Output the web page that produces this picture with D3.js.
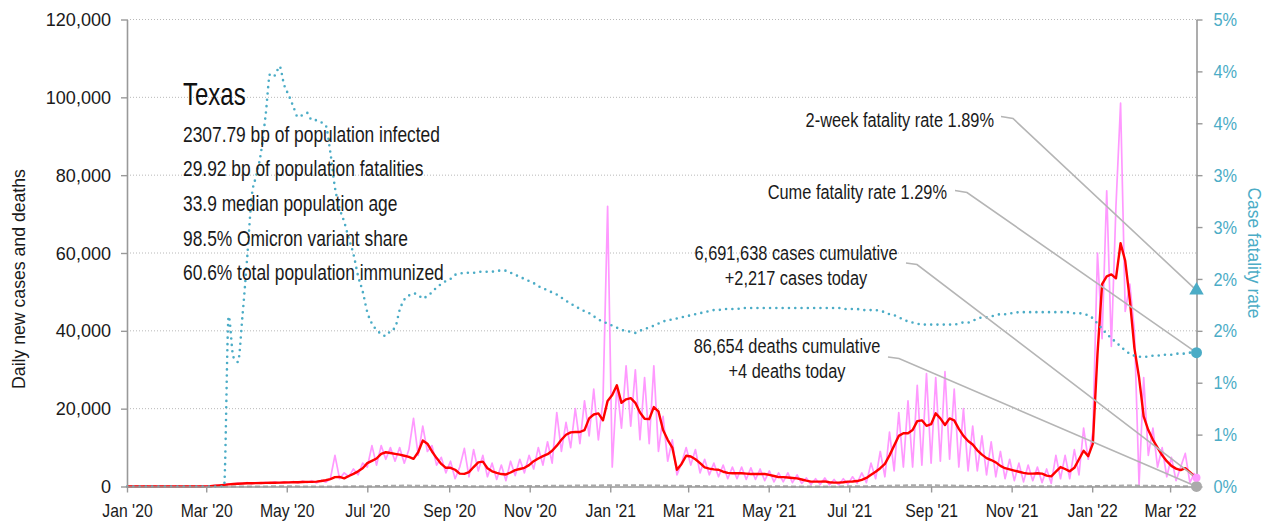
<!DOCTYPE html>
<html><head><meta charset="utf-8">
<script src="https://cdn.jsdelivr.net/npm/d3@7"></script>
<style>
body{margin:0;background:#fff;}
svg text{font-family:"Liberation Sans",Arial,sans-serif;}
</style></head><body>
<svg id="chart" width="1270" height="527"></svg>
<script>
// ---------- data ----------
const startDate = "2020-01-01";
const endDate = "2022-03-21";
const stepDays = 3.5;          // sampling step of the half-weekly series
const deathStepDays = 7;       // sampling step of the weekly deaths series

const casesDaily = [
0,0,0,0,0,0,0,0,0,0,
0,0,0,0,0,0,10,30,120,250,
350,500,700,600,900,700,1000,750,1000,800,
1100,800,1200,850,1200,900,1300,900,1400,1000,
1500,900,1600,1100,2000,8000,2000,3500,2500,4500,
3000,6000,5000,10500,5500,10500,7000,10000,6500,10000,
6000,9500,17500,8000,15500,9000,10500,5500,7500,3500,
6500,2000,5000,9800,2500,9500,4000,8000,2500,6000,
1800,5500,1500,6500,2800,7000,3500,8000,4500,10000,
5500,11500,6000,19000,9000,16500,10000,20000,11000,22000,
13000,25000,12000,22000,72000,5000,26000,15000,31000,15500,
30000,12000,28000,11000,31000,9000,18000,6500,12000,3000,
6000,10000,5500,9500,3500,7000,3000,6000,2500,5500,
2000,5000,2000,5000,1800,4800,1800,4500,1500,4000,
1200,3500,1200,3500,1000,3000,800,2200,500,2000,
500,2200,400,1800,400,2000,600,2500,800,3500,
1000,6000,2000,9000,2500,14000,4000,19000,5000,22000,
5000,26000,5500,29000,6000,28000,6500,29500,7000,25000,
5000,20000,4000,15500,4000,13000,3000,11500,2500,9000,
2000,7000,1500,6000,1200,5500,1500,5000,1000,4500,
800,8000,2000,8000,2000,9500,3000,15000,7000,14000,
60000,38000,76000,36000,72000,98500,45000,52000,40000,500,
28000,8000,15000,5000,10000,2500,7500,1500,5000,8500,
1000,3500
];

// 7-day average of new cases (same sampling)
const casesAvg = [
0,0,0,0,0,0,0,0,0,0,
0,0,0,0,0,0,5,20,80,180,
300,420,550,650,720,780,820,850,880,900,
920,950,980,1000,1020,1050,1080,1100,1150,1180,
1200,1250,1400,1600,1900,2400,2450,2100,2700,3250,
3900,4700,6000,6600,7200,8400,8800,8600,8400,8200,
7900,7600,7100,8800,11800,11000,9000,7300,5800,4800,
4800,4300,3300,3250,3700,5000,6200,6400,4700,3900,
3500,3200,3100,3600,4200,4500,4800,5500,6500,7200,
7800,8300,9200,10500,12000,13300,13900,14000,14000,14500,
17500,18500,18800,17000,22000,23500,26000,21500,22400,22700,
21500,19000,17400,17300,20400,19300,14500,12000,10000,4300,
5800,7900,7700,7000,6000,4900,4600,4400,4300,3800,
3500,3400,3450,3400,3300,3200,3250,3200,3200,3000,
2700,2400,2400,2300,2200,2100,1800,1500,1250,1250,
1250,1300,1100,1000,1000,1100,1250,1300,1400,1700,
2200,3000,3800,4700,5800,8000,10500,13000,13700,13700,
14500,16800,17000,15600,16000,18800,17500,15800,17500,17000,
14800,13000,11700,10800,9300,8200,7300,6800,6200,5300,
4700,4400,4100,3800,3500,3300,3300,3400,3300,2800,
2600,3800,5000,4500,3900,4800,7000,9200,7800,11000,
34000,52000,54000,54500,53500,62500,58000,48000,35500,28000,
18000,14500,12000,10000,8000,6500,5300,4600,4200,4700,
3700,2600
];

// case fatality rate in percent (same sampling)
const cfrPct = [
0,0,0,0,0,0,0,0,0,0,
0,0,0,0,0,0,0,0,0,0,
0,0,1.64,1.25,1.2,1.65,2.2,2.8,3.0,3.22,
3.58,3.98,3.96,4.05,3.87,3.77,3.66,3.56,3.58,3.6,
3.53,3.53,3.51,3.48,3.22,2.88,2.68,2.55,2.39,2.24,
2.03,1.88,1.68,1.57,1.51,1.47,1.45,1.5,1.53,1.7,
1.8,1.84,1.86,1.85,1.81,1.84,1.87,1.92,1.95,1.98,
2.0,2.04,2.05,2.06,2.06,2.06,2.07,2.07,2.07,2.07,
2.08,2.08,2.08,2.06,2.04,2.02,2.0,1.98,1.96,1.93,
1.91,1.89,1.87,1.85,1.82,1.79,1.76,1.74,1.71,1.69,
1.67,1.64,1.61,1.59,1.57,1.55,1.53,1.51,1.5,1.49,
1.48,1.5,1.52,1.53,1.55,1.57,1.59,1.6,1.61,1.62,
1.63,1.64,1.65,1.66,1.67,1.68,1.69,1.7,1.7,1.71,
1.71,1.71,1.71,1.72,1.72,1.72,1.72,1.72,1.72,1.72,
1.72,1.72,1.72,1.72,1.72,1.72,1.72,1.72,1.72,1.72,
1.72,1.72,1.72,1.72,1.72,1.71,1.71,1.71,1.71,1.7,
1.7,1.7,1.7,1.69,1.68,1.66,1.65,1.63,1.61,1.59,
1.58,1.57,1.56,1.56,1.56,1.56,1.56,1.56,1.56,1.56,
1.57,1.58,1.58,1.6,1.61,1.63,1.63,1.64,1.65,1.66,
1.66,1.67,1.67,1.68,1.68,1.68,1.68,1.68,1.68,1.68,
1.68,1.68,1.68,1.68,1.68,1.67,1.67,1.66,1.65,1.62,
1.57,1.52,1.47,1.43,1.39,1.35,1.31,1.28,1.26,1.25,
1.25,1.25,1.26,1.26,1.27,1.27,1.27,1.28,1.28,1.28,
1.29,1.29
];

// 7-day average of new deaths (weekly)
const deathsAvg = [
0,0,0,0,0,0,0,0,0,0,
0,1,5,15,25,30,35,35,35,30,
30,25,25,25,30,45,70,110,150,200,
230,220,200,170,140,110,100,90,80,75,
75,80,90,110,130,150,170,200,220,240,
260,280,300,320,340,330,300,250,220,200,
170,140,110,90,70,60,50,45,40,40,
35,35,30,30,30,30,30,30,35,50,
80,120,170,230,280,300,310,300,280,250,
200,160,120,100,90,80,70,60,55,55,
60,60,60,70,90,120,170,210,240,230,
200,170,140,110,90,80
];

const leftTicks = [0,20000,40000,60000,80000,100000,120000];
const rightTicks = [0,0.005,0.01,0.015,0.02,0.025,0.03,0.035,0.04,0.045];
const rightTickLabels = ["0%","1%","1%","2%","2%","3%","3%","4%","4%","5%"];
const xTickMonths = ["2020-01-01","2020-03-01","2020-05-01","2020-07-01","2020-09-01","2020-11-01",
  "2021-01-01","2021-03-01","2021-05-01","2021-07-01","2021-09-01","2021-11-01","2022-01-01","2022-03-01"];

const stateName = "Texas";
const statLines = [
  "2307.79 bp of population infected",
  "29.92 bp of population fatalities",
  "33.9 median population age",
  "98.5% Omicron variant share",
  "60.6% total population immunized"
];
const cfr2wk = 0.0189, cfrCume = 0.0129;
const casesCum = 6691638, casesToday = 2217;
const deathsCum = 86654, deathsToday = 4;

// ---------- chart ----------
const BLUE = "#4bacc6", PINK = "#ff99ff", RED = "#ff0000", GRAY = "#aaaaaa", AXIS = "#999999", INK = "#1a1a1a";
const svg = d3.select("#chart");
const parse = d3.utcParse("%Y-%m-%d");
const start = parse(startDate), end = parse(endDate);
const DAY = 864e5;
const dateAt = i => new Date(+start + i * stepDays * DAY);
const weekAt = i => new Date(+start + i * deathStepDays * DAY);

const X0 = 127, X1 = 1196.5, Y0 = 486.5, Y1 = 19.5;
const x = d3.scaleUtc().domain([start, end]).range([X0, X1]);
const y = d3.scaleLinear().domain([0, 120000]).range([Y0, Y1]);
const y2 = d3.scaleLinear().domain([0, 0.045]).range([Y0, Y1]);

// condensed text helper (horizontal squeeze of a regular sans)
function ntext(parent, tx, ty, sx, size, str, anchor, fill, rot) {
  const g = parent.append("g")
    .attr("transform", `translate(${tx},${ty})${rot ? ` rotate(${rot})` : ""} scale(${sx},1)`);
  return g.append("text").attr("x", 0).attr("y", 0)
    .attr("text-anchor", anchor || "start").attr("fill", fill || INK)
    .style("font-size", size + "px").text(str);
}

// gridlines
svg.append("g").selectAll("line").data(leftTicks.filter(d => d > 0)).join("line")
  .attr("x1", X0).attr("x2", X1).attr("y1", d => y(d)).attr("y2", d => y(d))
  .attr("stroke", "#b8b8b8").attr("stroke-width", 1).attr("stroke-dasharray", "1,2");

// daily cases
const lineHalf = d3.line().x((d, i) => x(dateAt(i))).y(d => y(d));
svg.append("path").datum(casesDaily).attr("d", lineHalf)
  .attr("fill", "none").attr("stroke", PINK).attr("stroke-width", 1.7).attr("stroke-linejoin", "round");

// deaths
svg.append("path").datum(deathsAvg)
  .attr("d", d3.line().x((d, i) => x(weekAt(i))).y(d => y(d)))
  .attr("fill", "none").attr("stroke", GRAY).attr("stroke-width", 2).attr("stroke-dasharray", "5,3");

// 7-day average
svg.append("path").datum(casesAvg).attr("d", lineHalf)
  .attr("fill", "none").attr("stroke", RED).attr("stroke-width", 2.4).attr("stroke-linejoin", "round");

// CFR dotted
svg.append("path").datum(cfrPct)
  .attr("d", d3.line().x((d, i) => x(dateAt(i))).y(d => y2(d / 100)).curve(d3.curveMonotoneX))
  .attr("fill", "none").attr("stroke", BLUE).attr("stroke-width", 2.6)
  .attr("stroke-linecap", "round").attr("stroke-dasharray", "0,6.3");

// axes
const fmt = d3.format(",");
const SXL = 0.95, SXR = 0.86, SXB = 0.83;
const gL = svg.append("g").attr("transform", `translate(${X0},0)`)
  .call(d3.axisLeft(y).tickValues(leftTicks).tickFormat(fmt).tickSize(6).tickSizeOuter(0));
gL.selectAll("text").attr("x", -16 / SXL).attr("transform", `scale(${SXL},1)`)
  .attr("fill", INK).style("font-size", "19px");

const gR = svg.append("g").attr("transform", `translate(${X1},0)`)
  .call(d3.axisRight(y2).tickValues(rightTicks).tickFormat((d, i) => rightTickLabels[i]).tickSize(6).tickSizeOuter(0));
gR.selectAll("text").attr("x", 17 / SXR).attr("transform", `scale(${SXR},1)`)
  .attr("fill", BLUE).style("font-size", "19px");

const gB = svg.append("g").attr("transform", `translate(0,${Y0})`)
  .call(d3.axisBottom(x).tickValues(xTickMonths.map(parse)).tickFormat(d3.utcFormat("%b '%y")).tickSize(6).tickSizeOuter(0));
gB.selectAll("text").attr("y", 17).attr("transform", `scale(${SXB},1)`)
  .attr("fill", INK).style("font-size", "19px");

[gL, gR, gB].forEach(g => {
  g.select(".domain").attr("stroke", AXIS).attr("stroke-width", 1.6);
  g.selectAll(".tick line").attr("stroke", AXIS).attr("stroke-width", 1.4);
});

// axis titles
ntext(svg, 18.5, 279, 0.93, 19, "Daily new cases and deaths", "middle", INK, -90).attr("dy", "0.35em");
ntext(svg, 1254.5, 253, 0.92, 19, "Case fatality rate", "middle", BLUE, 90).attr("dy", "0.35em");

// state block
ntext(svg, 183, 105, 0.75, 32, stateName, "start", "#111");
statLines.forEach((t, i) => ntext(svg, 183, 141.7 + i * 34.6, 0.79, 22, t));

// annotations
const pct = d3.format(".2%");
const xe = x(end);
const notes = [
  {lines: ["2-week fatality rate " + pct(cfr2wk)], tx: 994, ty: 127, anchor: "end",
   path: [[1001, 116.5], [1013, 118.5]], target: [xe, y2(cfr2wk)]},
  {lines: ["Cume fatality rate " + pct(cfrCume)], tx: 947, ty: 199, anchor: "end",
   path: [[955, 190.5], [967, 192.5]], target: [xe, y2(cfrCume)]},
  {lines: [fmt(casesCum) + " cases cumulative", "+" + fmt(casesToday) + " cases today"], tx: 796, ty: 259.5, anchor: "middle",
   path: [[906, 263], [917, 264.5]], target: [xe, y(casesToday)]},
  {lines: [fmt(deathsCum) + " deaths cumulative", "+" + fmt(deathsToday) + " deaths today"], tx: 787, ty: 352.5, anchor: "middle",
   path: [[888, 357], [899, 358.5]], target: [xe, y(deathsToday)]}
];
notes.forEach(n => {
  svg.append("path").attr("d", d3.line()([...n.path, n.target]))
    .attr("fill", "none").attr("stroke", "#b5b5b5").attr("stroke-width", 1.6);
  n.lines.forEach((t, i) => ntext(svg, n.tx, n.ty + i * 25, 0.78, 21, t, n.anchor));
});

// end markers
svg.append("circle").attr("cx", xe).attr("cy", y(deathsToday)).attr("r", 5.5).attr("fill", GRAY);
svg.append("circle").attr("cx", xe).attr("cy", y(casesToday)).attr("r", 4).attr("fill", PINK);
svg.append("circle").attr("cx", xe).attr("cy", y2(cfrCume)).attr("r", 5.5).attr("fill", BLUE);
svg.append("path").attr("d", d3.symbol().type(d3.symbolTriangle).size(90)())
  .attr("transform", `translate(${xe},${y2(cfr2wk)})`).attr("fill", BLUE);
</script>
</body></html>
